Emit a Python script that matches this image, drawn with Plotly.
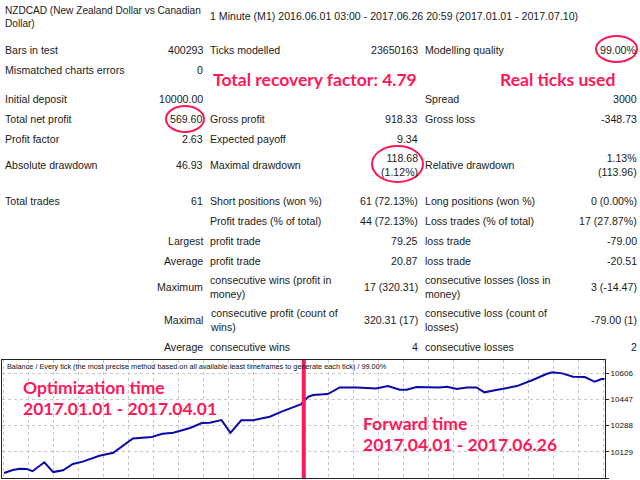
import plotly.graph_objects as go

W, H = 640, 480

# header
symbol_lines = ["NZDCAD (New Zealand Dollar vs Canadian", "Dollar)"]
period_text = "1 Minute (M1) 2016.06.01 03:00 - 2017.06.26 20:59 (2017.01.01 - 2017.07.10)"

# summary block, three label/value columns per row
col1_labels = ["Bars in test", "Mismatched charts errors", "Initial deposit", "Total net profit",
               "Profit factor", "Absolute drawdown", "Total trades"]
col1_values = ["400293", "0", "10000.00", "569.60", "2.63", "46.93", "61"]
col2_labels = ["Ticks modelled", "", "", "Gross profit", "Expected payoff", "Maximal drawdown",
               "Short positions (won %)"]
col2_values = ["23650163", "", "", "918.33", "9.34", "118.68<br>(1.12%)", "61 (72.13%)"]
col3_labels = ["Modelling quality", "", "Spread", "Gross loss", "", "Relative drawdown",
               "Long positions (won %)"]
col3_values = ["99.00%", "", "3000", "-348.73", "", "1.13%<br>(113.96)", "0 (0.00%)"]

# trade statistics block
trade_kind = ["", "Largest", "Average", "Maximum", "Maximal", "Average"]
trade_labels2 = ["Profit trades (% of total)", "profit trade", "profit trade",
                 "consecutive wins (profit in<br>money)", "consecutive profit (count of<br>wins)",
                 "consecutive wins"]
trade_values2 = ["44 (72.13%)", "79.25", "20.87", "17 (320.31)", "320.31 (17)", "4"]
trade_labels3 = ["Loss trades (% of total)", "loss trade", "loss trade",
                 "consecutive losses (loss in<br>money)", "consecutive loss (count of<br>losses)",
                 "consecutive losses"]
trade_values3 = ["17 (27.87%)", "-79.00", "-20.51", "3 (-14.47)", "-79.00 (1)", "2"]

# balance curve (trade number, balance)
trade_no = [0, 0.9, 1.6, 2.3, 2.9, 4.1, 5.0, 6.0, 7.0, 8.0, 9.7, 11.1, 13.1, 15.0, 16.1, 17.2,
            18.9, 20.1, 20.9, 22.1, 23.0, 24.1, 25.3, 27.0, 28.2, 29.3, 30.2, 30.9, 31.4, 32.9,
            34.1, 35.8, 37.8, 39.0, 40.2, 40.9, 41.9, 44.2, 45.0, 46.0, 47.0, 48.0, 48.8, 50.0,
            52.1, 53.7, 55.1, 55.7, 56.7, 57.8, 59.0, 60.0, 60.7, 61.0]
balance = [10000, 10018, 10026, 10025, 10011, 10065, 10006, 10017, 10055, 10069, 10105, 10123,
           10210, 10218, 10238, 10244, 10273, 10303, 10305, 10321, 10244, 10320, 10320, 10341,
           10372, 10398, 10418, 10462, 10473, 10479, 10519, 10519, 10513, 10527, 10505, 10505,
           10521, 10519, 10523, 10509, 10519, 10519, 10489, 10503, 10527, 10564, 10600, 10610,
           10604, 10584, 10582, 10553, 10570, 10570]
balance_ticks = [9970, 10129, 10288, 10447, 10606]
forward_start = 30.45

chart_title = ("Balance / Every tick (the most precise method based on all available least "
               "timeframes to generate each tick) / 99.00%")

RED = "#FF1858"
TXT = "#1b1b1b"
FONT = "Liberation Sans, Arial, sans-serif"
BOLD = "Lato, Open Sans, sans-serif"
SIZE = 10.6


def px(x):
    return x / W


def py(y):
    return 1 - y / H


annotations = []


def put(text, x, y, anchor="left", size=SIZE, color=TXT, family=FONT):
    # annotation boxes carry a little padding, nudge so the glyphs land on x
    x = x - 2 if anchor == "left" else x + 2
    annotations.append(dict(
        text=text, x=px(x), y=py(y), xref="paper", yref="paper",
        xanchor=anchor, yanchor="middle", align=anchor, showarrow=False,
        font=dict(size=size, color=color, family=family),
    ))


# header
put(symbol_lines[0], 5, 10, size=10.1)
put(symbol_lines[1], 5, 23, size=10.1)
put(period_text, 210, 16)

summary_y = [50, 70, 99, 119, 139, 165, 201]
for i, y in enumerate(summary_y):
    put(col1_labels[i], 5, y)
    put(col1_values[i], 203, y, "right")
    if col2_labels[i]:
        put(col2_labels[i], 210, y)
    if col2_values[i]:
        put(col2_values[i], 418, y, "right")
    if col3_labels[i]:
        put(col3_labels[i], 425, y)
    if col3_values[i]:
        put(col3_values[i], 637, y, "right")

trade_y = [221, 241, 261, 287, 320, 347]
for i, y in enumerate(trade_y):
    if trade_kind[i]:
        put(trade_kind[i], 203, y, "right")
    put(trade_labels2[i], 210, y)
    put(trade_values2[i], 418, y, "right")
    put(trade_labels3[i], 425, y)
    put(trade_values3[i], 637, y, "right")

# red notes
put("<b>Total recovery factor: 4.79</b>", 213, 80, size=17.5, color=RED, family=BOLD)
put("<b>Real ticks used</b>", 500, 80, size=17.5, color=RED, family=BOLD)
put("<b>Optimization time</b>", 23, 387, size=17.5, color=RED, family=BOLD)
put("<b>2017.01.01 - 2017.04.01</b>", 23, 408, size=17.5, color=RED, family=BOLD)
put("<b>Forward time</b>", 363, 423, size=17.5, color=RED, family=BOLD)
put("<b>2017.04.01 - 2017.06.26</b>", 363, 444, size=17.5, color=RED, family=BOLD)

put(chart_title, 7, 366, size=7.3, color="#111111")

shapes = []


def ring(x0, y0, x1, y1):
    shapes.append(dict(type="circle", xref="paper", yref="paper",
                       x0=px(x0), x1=px(x1), y0=py(y1), y1=py(y0),
                       line=dict(color=RED, width=2)))


ring(166, 106, 204, 132)
ring(596, 36, 637, 62)
ring(372, 146, 423, 182)

shapes.append(dict(type="line", xref="x", yref="y domain", x0=forward_start, x1=forward_start,
                   y0=0, y1=1, line=dict(color=RED, width=4)))

fig = go.Figure()
fig.add_trace(go.Scatter(
    x=trade_no, y=balance, mode="lines",
    line=dict(color="#0A0AAA", width=2),
    showlegend=False, hoverinfo="skip",
))

fig.update_layout(
    width=W, height=H,
    margin=dict(l=0, r=0, t=0, b=0),
    paper_bgcolor="white", plot_bgcolor="white",
    annotations=annotations, shapes=shapes,
    xaxis=dict(
        domain=[px(2), px(605)], range=[-0.2, 61.05],
        tickmode="linear", tick0=2.54, dtick=2.5374,
        showticklabels=False, ticks="",
        showgrid=True, gridcolor="#c8c8c8", griddash="3px,3px", gridwidth=1,
        showline=True, mirror=True, linecolor="#222222", linewidth=1, zeroline=False,
    ),
    yaxis=dict(
        domain=[py(478), py(360)], range=[9970, 10685],
        side="right", tickvals=balance_ticks, tickformat="d",
        ticks="outside", ticklen=3, tickcolor="#222222",
        tickfont=dict(size=8, color="#111111", family=FONT),
        showgrid=True, gridcolor="#c8c8c8", griddash="3px,3px", gridwidth=1,
        showline=True, mirror=True, linecolor="#222222", linewidth=1, zeroline=False,
    ),
)

# page has default body margin; drop it so the figure fills the window
fig.write_html("out.html", config={"displayModeBar": False},
               post_script="document.body.style.margin='0';document.body.style.overflow='hidden';")
